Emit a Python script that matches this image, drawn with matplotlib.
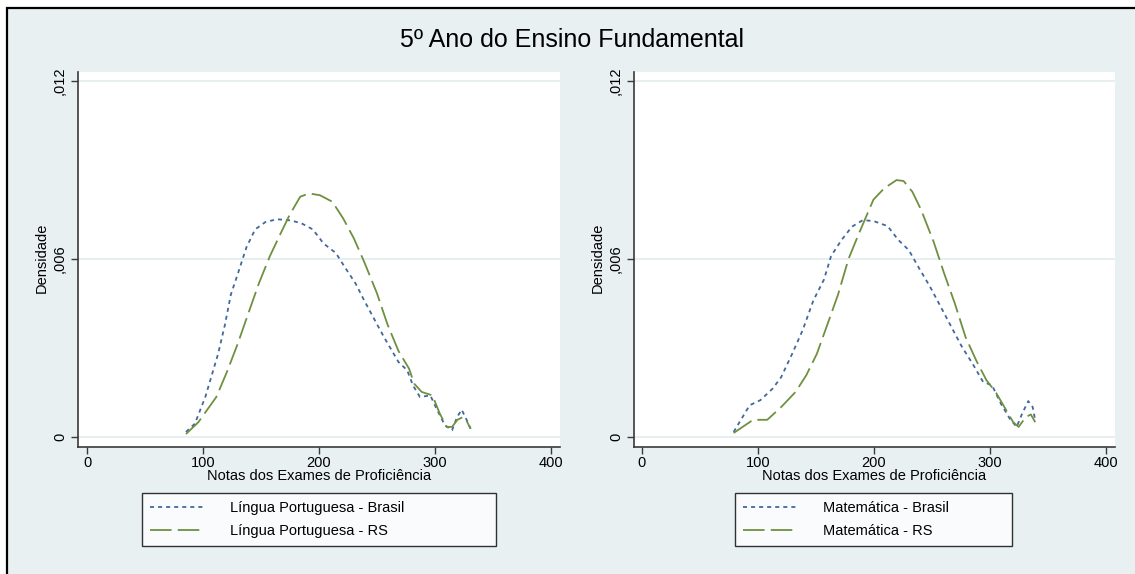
import matplotlib
matplotlib.use("Agg")
import matplotlib.pyplot as plt
from matplotlib.patches import Rectangle
from matplotlib.lines import Line2D

# ---------------- data ----------------
lp_brasil_x = [85.3, 93, 102, 113, 119, 124, 130, 137.5, 145, 154, 164, 176, 185, 194.6, 204, 214.6,
               222, 231.6, 239, 250, 256, 268.5, 276, 281, 287, 296, 302, 308.5, 314.7, 319, 323, 327, 330.7]
lp_brasil_y = [0.00017, 0.00045, 0.00135, 0.0028, 0.0038, 0.0048, 0.0055, 0.0064, 0.0070, 0.00725, 0.00734,
               0.0073, 0.0072, 0.0070, 0.00652, 0.0062, 0.00574, 0.00517, 0.0046, 0.0038, 0.00337, 0.00253,
               0.00225, 0.00174, 0.00135, 0.0014, 0.0009, 0.0004, 0.000225, 0.00067, 0.00092, 0.0006, 0.00028]

lp_rs_x = [85.3, 96, 111.5, 120.7, 130, 139, 148.4, 157.7, 166.9, 174.6, 183.8, 191.5, 200.8, 211.5, 220.8,
           230, 239, 250, 259, 268.5, 277.7, 282, 288.5, 297.8, 304, 310, 314.7, 319.3, 324, 327, 330.7]
lp_rs_y = [0.0001, 0.0005, 0.00135, 0.0022, 0.00315, 0.00416, 0.0052, 0.0061, 0.00686, 0.00748, 0.0081,
           0.00821, 0.00815, 0.00793, 0.00737, 0.0067, 0.0059, 0.00484, 0.0038, 0.0029, 0.0023, 0.0018,
           0.00152, 0.0014, 0.0008, 0.00034, 0.00034, 0.00058, 0.00067, 0.00056, 0.00028]

mat_brasil_x = [79, 92.8, 102, 112.6, 120, 129.4, 138.5, 147.7, 156.8, 163, 172, 181, 190.4, 199.5, 211.7,
                221, 230, 239, 248.4, 257.5, 266.7, 275.8, 285, 294, 301.8, 309.4, 317, 323, 327.7, 333,
                336.8, 339]
mat_brasil_y = [0.00017, 0.00107, 0.00124, 0.00163, 0.00202, 0.0028, 0.0036, 0.0046, 0.0053, 0.0061,
                0.00664, 0.00709, 0.00731, 0.00728, 0.00711, 0.00664, 0.0063, 0.00568, 0.00506, 0.00439,
                0.00371, 0.00304, 0.00247, 0.00186, 0.00174, 0.00112, 0.00062, 0.00034, 0.00079, 0.00121,
                0.00101, 0.00056]

mat_rs_x = [79, 95.8, 108, 120, 132.4, 141.6, 150.7, 159.9, 169, 178, 187, 199.5, 208.7, 219.4, 225.5,
            233, 240.7, 251.4, 260.6, 269.7, 278.9, 288, 297, 304.8, 312.4, 320, 324.7, 330.8, 335.2, 339]
mat_rs_y = [0.000135, 0.00058, 0.00058, 0.00101, 0.00152, 0.00208, 0.0028, 0.0038, 0.0048, 0.0060,
            0.00686, 0.0080, 0.00838, 0.00866, 0.00863, 0.00827, 0.00765, 0.00658, 0.0055, 0.0045,
            0.00337, 0.00259, 0.00191, 0.00152, 0.00101, 0.0005, 0.00034, 0.00067, 0.00076, 0.0005]

x_ticks = [0, 100, 200, 300, 400]
x_ticklabels = ["0", "100", "200", "300", "400"]
y_ticks = [0, 0.006, 0.012]
y_ticklabels = ["0", ",006", ",012"]

title = "5º Ano do Ensino Fundamental"
xlabel = "Notas dos Exames de Proficiência"
ylabel = "Densidade"
labels_left = ["Língua Portuguesa - Brasil", "Língua Portuguesa - RS"]
labels_right = ["Matemática - Brasil", "Matemática - RS"]

# ---------------- style ----------------
plt.rcParams['font.family'] = ['Liberation Sans', 'DejaVu Sans']
plt.rcParams['lines.scale_dashes'] = False

W, H = 1135, 574
BG = "#E8F0F2"
GRID = "#E4ECEE"
BLUE = "#41689C"
GREEN = "#6F9040"
SPINE = "#3A3A3A"
FS = 10.5

fig = plt.figure(figsize=(W / 100, H / 100), dpi=100, facecolor="white")


def fx(x):
    return x / W


def fy(y):
    return 1 - y / H


# framed background (top and left border visible)
fig.patches.append(Rectangle((fx(7), fy(H + 20)), fx(W + 30 - 7), (H + 20 - 8) / H,
                             transform=fig.transFigure, facecolor=BG, edgecolor="black",
                             linewidth=1.6, zorder=-10))

blue_dash = (0, (2.9, 2.9))
green_dash = (0, (15.5, 4.5))


def make_panel(left_px, right_px, x0_px, x400_px, xb, yb, xr, yr, labels, leg_box):
    top_px, bot_px = 72, 447
    ax = fig.add_axes([fx(left_px), fy(bot_px), (right_px - left_px) / W, (bot_px - top_px) / H])
    ax.set_zorder(2)
    ax.set_facecolor("white")
    ppu = (x400_px - x0_px) / 400.0
    ax.set_xlim((left_px - x0_px) / ppu, (right_px - x0_px) / ppu)
    y0_px, y12_px = 437, 81
    ppy = (y0_px - y12_px) / 0.012
    ax.set_ylim(-(bot_px - y0_px) / ppy, 0.012 + (y12_px - top_px) / ppy)
    for yv in y_ticks:
        ax.axhline(yv, color=GRID, lw=1.2, zorder=1)
    ax.plot(xb, yb, color=BLUE, lw=1.3, linestyle=blue_dash, zorder=3)
    ax.plot(xr, yr, color=GREEN, lw=1.3, linestyle=green_dash, zorder=3)
    ax.set_xticks(x_ticks)
    ax.set_xticklabels(x_ticklabels)
    ax.set_yticks(y_ticks)
    ax.set_yticklabels(y_ticklabels, rotation=90, va="center")
    ax.tick_params(axis="both", direction="out", length=5, width=1, color=SPINE,
                   labelsize=FS, labelcolor="black")
    ax.tick_params(axis="x", pad=1.5)
    ax.tick_params(axis="y", pad=3)
    for s in ["top", "right"]:
        ax.spines[s].set_visible(False)
    for s in ["left", "bottom"]:
        ax.spines[s].set_color(SPINE)
        ax.spines[s].set_linewidth(1.2)
    cx = (left_px + right_px) / 2
    fig.text(fx(cx), fy(476.5), xlabel, ha="center", va="center", fontsize=FS)
    fig.text(fx(left_px - 36), fy(258), ylabel, ha="center", va="center", rotation=90, fontsize=FS)
    # legend
    lx0, lx1, ly0, ly1 = leg_box
    h1 = Line2D([], [], color=BLUE, lw=1.3, linestyle=blue_dash)
    h2 = Line2D([], [], color=GREEN, lw=1.3, linestyle=green_dash)
    leg = ax.legend([h1, h2], labels, loc="upper left",
                    bbox_to_anchor=(fx(lx0), fy(ly1), (lx1 - lx0) / W, (ly1 - ly0) / H),
                    bbox_transform=fig.transFigure, mode="expand", borderaxespad=0,
                    frameon=True, fancybox=False, edgecolor="black", fontsize=FS,
                    handlelength=3.8, handletextpad=1.7, borderpad=0.55, labelspacing=0.6)
    leg.get_frame().set_linewidth(1.0)
    leg.get_frame().set_facecolor("white")
    return ax


make_panel(78, 560, 87, 551, lp_brasil_x, lp_brasil_y, lp_rs_x, lp_rs_y, labels_left,
           (141.6, 496, 493, 543))
make_panel(634, 1114.5, 642, 1106, mat_brasil_x, mat_brasil_y, mat_rs_x, mat_rs_y, labels_right,
           (735, 1012, 493, 543))

fig.text(fx(572), fy(40), title, ha="center", va="center", fontsize=18)

fig.savefig("out.png", dpi=100, facecolor=fig.get_facecolor())
